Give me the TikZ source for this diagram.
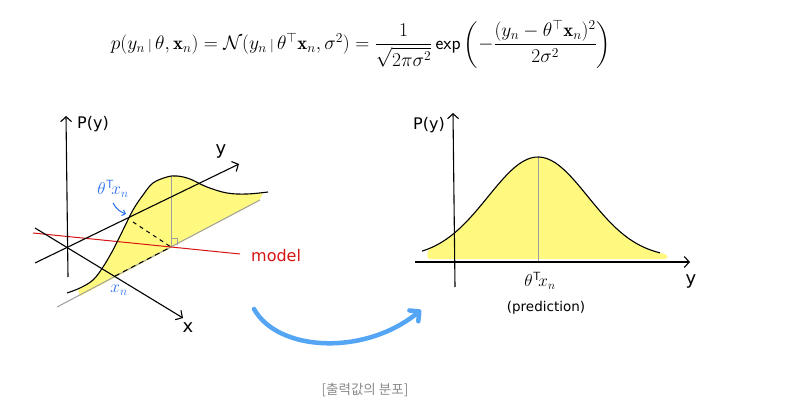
\documentclass[tikz,border=0pt]{standalone}
\usepackage{amsmath}
\usepackage{graphicx}
\usepackage{fontspec}
\newfontfamily\krfont{Noto Sans CJK KR}
\newfontfamily\handfont{DejaVu Sans}
\usetikzlibrary{arrows.meta}
\definecolor{yel}{RGB}{255,249,128}
\definecolor{hblue}{RGB}{40,110,240}
\definecolor{hred}{RGB}{215,20,20}
\definecolor{arrowblue}{RGB}{85,165,245}
\definecolor{capgray}{RGB}{140,140,140}
\tikzset{
  axis/.style={line width=1.1pt, black, -{Straight Barb[length=5pt,width=11pt]}},
  curveline/.style={line width=1.1pt, black},
  grayline/.style={line width=1pt, gray!75},
  hand/.style={font=\handfont\fontsize{16}{18}\selectfont, inner sep=0pt},
  bluelbl/.style={hblue, font=\fontsize{17}{19}\selectfont, inner sep=0pt},
}
\begin{document}
\begin{tikzpicture}[x=1pt,y=-1pt]
\useasboundingbox (0,0) rectangle (802,414);
\fill[white] (0,0) rectangle (802,414);
% formula
\node[inner sep=0pt] (formula) at (361,44) {\scalebox{0.94}{\fontsize{20}{23}\selectfont
$p(y_n\,{\scriptstyle|}\,\theta,\mathbf{x}_n)=\mathcal{N}(y_n\,{\scriptstyle|}\,\theta^{\top}\mathbf{x}_n,\sigma^2)=\dfrac{1}{\sqrt{2\pi\sigma^2}}\,\mathsf{exp}\left(-\dfrac{(y_n-\theta^{\top}\mathbf{x}_n)^2}{2\sigma^2}\right)$}};

% ---------- left panel ----------
\fill[yel] plot[smooth, tension=0.6] coordinates {(78,290) (93,280) (103,267) (113,250) (123,230) (133,210) (143,195) (153,183) (167,177) (177,176) (190,179) (207,187) (227,193) (247,194) (263,193)} -- (259,201) -- (80,296) -- cycle;
% baseline (gray)
\coordinate (b0) at (57,307);
\coordinate (b1) at (260,200);
\draw[grayline] (b0) -- (b1);
% vertical gray line at peak
\coordinate (peak) at (171,176);
\coordinate (foot) at (171,247);
\draw[grayline] (peak) -- (foot);
\draw[gray!75, line width=0.8pt] (171,238) -- (177,238) -- (177,245);
% dashed lines
\coordinate (xn) at (115,276);
\coordinate (ycross) at (133,222);
\draw[black, line width=1pt, dash pattern=on 5pt off 4pt] (xn) -- (foot);
\draw[black, line width=1pt, dash pattern=on 4pt off 4pt] (ycross) -- (foot);
% red model line
\coordinate (m0) at (33,233);
\coordinate (m1) at (240,254);
\draw[hred, line width=1pt] (m0) -- (m1);
\node[hand, hred, anchor=west, font=\handfont\fontsize{16}{18}\selectfont] (model) at (251,256) {model};
% P(y) axis
\coordinate (pa0) at (68,277);
\coordinate (pa1) at (66,116);
\draw[axis] (pa0) -- (pa1);
\node[hand, anchor=west] (lpy) at (77,124) {P(y)};
% x axis
\coordinate (xa0) at (35,228);
\coordinate (xa1) at (183,318);
\draw[axis] (xa0) -- (xa1);
\node[hand, font=\handfont\fontsize{18}{20}\selectfont] (lx) at (188,328) {x};
% y axis
\coordinate (ya0) at (35,263);
\coordinate (ya1) at (239,164);
\draw[axis] (ya0) -- (ya1);
\node[hand, font=\handfont\fontsize{18}{20}\selectfont] (ly) at (221,151) {y};
% curve
\draw[curveline] plot[smooth, tension=0.6] coordinates {(67,293) (80,288) (93,280) (103,267) (113,250) (123,230) (133,210) (143,195) (153,183) (167,177) (177,176) (190,179) (207,187) (227,193) (247,194) (268,192)};
% blue labels
\node[bluelbl] (ltx) at (113,189) {$\theta^{\mathsf{T}}\!x_n$};
\coordinate (ta0) at (113,203);
\coordinate (ta1) at (126,214);
\draw[hblue, line width=1pt, -{Straight Barb[length=3pt,width=6pt]}] (ta0) to[bend right=20] (ta1);
\node[bluelbl] (lxn) at (119,290) {$x_n$};

% ---------- right panel ----------
\fill[yel, rounded corners=3pt] plot[domain=428:667, samples=60] (\x, {258-101*exp(-((\x-538)/50)^2/2)}) -- (668,259) -- (427,259) -- cycle;
\draw[grayline] (538,157) -- (538,262);
\coordinate (ra0) at (455,287);
\coordinate (ra1) at (453,113);
\draw[axis] (ra0) -- (ra1);
\coordinate (ha0) at (415,262);
\coordinate (ha1) at (690,262);
\draw[axis] (ha0) -- (ha1);
\draw[curveline] plot[domain=422:660, samples=60] (\x, {258-101*exp(-((\x-538)/50)^2/2)});
\node[hand, anchor=east] (rpy) at (445,125) {P(y)};
\node[hand, font=\handfont\fontsize{18}{20}\selectfont] (ry) at (691,281) {y};
\node[inner sep=0pt, font=\fontsize{17}{19}\selectfont] (rtx) at (540,281) {$\theta^{\mathsf{T}}\!x_n$};
\node[hand, font=\handfont\fontsize{13.5}{15}\selectfont] (pred) at (546,308) {(prediction)};

% ---------- blue arrow ----------
\coordinate (ba0) at (254,309);
\coordinate (ba1) at (421,310);
\draw[arrowblue, line width=4.5pt, line cap=round, -{Straight Barb[round,length=7pt,width=14pt]}] (ba0) .. controls (278,352) and (365,356) .. (ba1);

% caption
\node[capgray, font=\krfont\fontsize{13.5}{15}\selectfont] (cap) at (365,390) {[출력값의 분포]};
\end{tikzpicture}
\end{document}
